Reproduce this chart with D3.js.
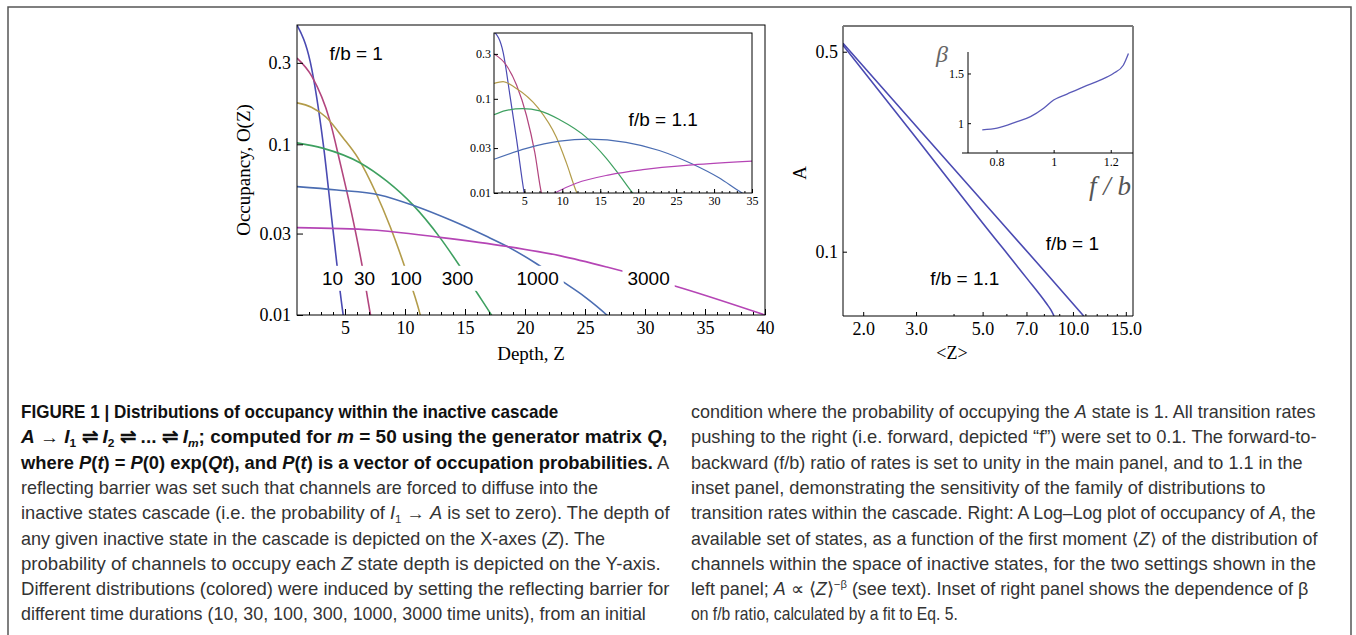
<!DOCTYPE html>
<html>
<head>
<meta charset="utf-8">
<script src="https://cdn.jsdelivr.net/npm/d3@7"></script>
<style>
  body { margin: 0; background: #fff; }
  svg { display: block; }
</style>
</head>
<body>
<div id="chart"></div>
<script>
// ---- data ----
const durations = ['10', '30', '100', '300', '1000', '3000'];
const depthTicks = [5, 10, 15, 20, 25, 30, 35, 40];
const insetDepthTicks = [5, 10, 15, 20, 25, 30, 35];
const occTicks = [0.01, 0.03, 0.1, 0.3];

// f/b = 1, main panel: [depth Z, occupancy]
const fb1_t10 = [[1, 0.5], [2.1, 0.305], [3.2, 0.099], [4.0, 0.0315], [4.85, 0.01], [5.2, 0.007]];
const fb1_t30 = [[1, 0.32], [2.24, 0.25], [3.72, 0.139], [4.61, 0.077], [5.5, 0.041], [6.39, 0.0201], [7.13, 0.01], [7.4, 0.008]];
const fb1_t100 = [[1, 0.175], [2.2, 0.165], [3.43, 0.144], [4.8, 0.11], [6.09, 0.083], [7.57, 0.052], [8.76, 0.033], [9.94, 0.0195], [11.27, 0.01], [11.6, 0.008]];
const fb1_t300 = [[1, 0.102], [3.13, 0.095], [6.24, 0.078], [8.46, 0.061], [10.68, 0.044], [12.9, 0.0285], [14.53, 0.0195], [16.0, 0.0135], [17.2, 0.01], [17.6, 0.009]];
const fb1_t1000 = [[1, 0.0565], [4.32, 0.054], [7.87, 0.0505], [10.83, 0.0435], [13.79, 0.036], [16.75, 0.029], [18.53, 0.0252], [20.9, 0.0201], [22.97, 0.016], [25.04, 0.0127], [26.82, 0.01], [27.5, 0.009]];
const fb1_t3000 = [[1, 0.0325], [7.28, 0.0315], [12.9, 0.0285], [18.53, 0.0252], [22.97, 0.0222], [26.82, 0.0191], [33.04, 0.0144], [40, 0.01]];

// f/b = 1.1, inset
const fb11_t10 = [[1, 0.52], [2.22, 0.308], [3.1, 0.109], [3.97, 0.0373], [4.98, 0.01], [5.2, 0.008]];
const fb11_t30 = [[1, 0.3], [2.58, 0.23], [3.97, 0.14], [5.28, 0.0665], [6.38, 0.0268], [7.25, 0.01], [7.4, 0.009]];
const fb11_t100 = [[1, 0.146], [2.2, 0.152], [3.75, 0.132], [6.81, 0.08], [9.22, 0.039], [10.53, 0.021], [11.93, 0.01], [12.2, 0.009]];
const fb11_t300 = [[1, 0.0677], [2.5, 0.075], [4.76, 0.0786], [7.04, 0.0745], [9.66, 0.06], [13.16, 0.039], [15.78, 0.0235], [17.53, 0.0155], [19.28, 0.01], [19.6, 0.0093]];
const fb11_t1000 = [[1, 0.0228], [5.28, 0.0298], [9.66, 0.0355], [13.5, 0.0373], [18.4, 0.0345], [22.78, 0.0283], [27.15, 0.0203], [30.65, 0.0145], [33.7, 0.01], [34.2, 0.0095]];
const fb11_t3000 = [[8.2, 0.0092], [9.0, 0.01], [11.84, 0.0127], [16.2, 0.0156], [20.6, 0.0177], [27.15, 0.0199], [35, 0.0218]];

// curve-label positions in the main panel
const labelZ = [3.96, 6.63, 10.09, 14.38, 21.05, 30.3];
const labelOcc = 0.0164;

// right panel: [<Z>, A]
const meanZTicks = [2, 3, 5, 7, 10, 15];
const meanZMinor = [4, 6, 8, 9, 11, 12, 13, 14];
const aTicks = [0.1, 0.5];
const aFb1 = [[1.713, 0.535], [3.0, 0.275], [5.0, 0.15], [8.0, 0.086], [10.86, 0.0596]];
const aFb11 = [[1.713, 0.527], [3.0, 0.25], [5.0, 0.126], [7.0, 0.081], [8.16, 0.0659], [8.45, 0.0625], [8.65, 0.0596]];

// right inset: beta vs f/b
const fbTicks = [0.8, 1, 1.2];
const betaTicks = [1, 1.5];
const fbRatio = [0.75, 0.802, 0.872, 0.919, 0.965, 1.0, 1.047, 1.105, 1.163, 1.209, 1.244, 1.262];
const beta = [0.933, 0.95, 1.016, 1.066, 1.15, 1.233, 1.293, 1.366, 1.433, 1.5, 1.583, 1.7];

const COLORS = ['#4a4ab2', '#b2457e', '#b39c4a', '#3ea060', '#4b6db2', '#b545b5'];

// caption lines: segments {t, b: bold, i: italic, sub, sup}
const captionLeft = [
  [{ t: 'FIGURE 1 | Distributions of occupancy within the inactive cascade', b: 1 }],
  [{ t: 'A', b: 1, i: 1 }, { t: ' \u2192 ', b: 1 }, { t: 'I', b: 1, i: 1 }, { t: '1', b: 1, sub: 1 }, { t: ' \u21cc ', b: 1 },
   { t: 'I', b: 1, i: 1 }, { t: '2', b: 1, sub: 1 }, { t: ' \u21cc ... \u21cc ', b: 1 }, { t: 'I', b: 1, i: 1 }, { t: 'm', b: 1, i: 1, sub: 1 },
   { t: '; computed for ', b: 1 }, { t: 'm', b: 1, i: 1 }, { t: ' = 50 using the generator matrix ', b: 1 }, { t: 'Q', b: 1, i: 1 }, { t: ',', b: 1 }],
  [{ t: 'where ', b: 1 }, { t: 'P', b: 1, i: 1 }, { t: '(', b: 1 }, { t: 't', b: 1, i: 1 }, { t: ') = ', b: 1 }, { t: 'P', b: 1, i: 1 },
   { t: '(0) exp(', b: 1 }, { t: 'Qt', b: 1, i: 1 }, { t: '), and ', b: 1 }, { t: 'P', b: 1, i: 1 }, { t: '(', b: 1 }, { t: 't', b: 1, i: 1 },
   { t: ') is a vector of occupation probabilities.', b: 1 }, { t: ' A' }],
  [{ t: 'reflecting barrier was set such that channels are forced to diffuse into the' }],
  [{ t: 'inactive states cascade (i.e. the probability of ' }, { t: 'I', i: 1 }, { t: '1', sub: 1 }, { t: ' \u2192 ' }, { t: 'A', i: 1 }, { t: ' is set to zero). The depth of' }],
  [{ t: 'any given inactive state in the cascade is depicted on the X-axes (' }, { t: 'Z', i: 1 }, { t: '). The' }],
  [{ t: 'probability of channels to occupy each ' }, { t: 'Z', i: 1 }, { t: ' state depth is depicted on the Y-axis.' }],
  [{ t: 'Different distributions (colored) were induced by setting the reflecting barrier for' }],
  [{ t: 'different time durations (10, 30, 100, 300, 1000, 3000 time units), from an initial' }]
];
const captionRight = [
  [{ t: 'condition where the probability of occupying the ' }, { t: 'A', i: 1 }, { t: ' state is 1. All transition rates' }],
  [{ t: 'pushing to the right (i.e. forward, depicted \u201cf\u201d) were set to 0.1. The forward-to-' }],
  [{ t: 'backward (f/b) ratio of rates is set to unity in the main panel, and to 1.1 in the' }],
  [{ t: 'inset panel, demonstrating the sensitivity of the family of distributions to' }],
  [{ t: 'transition rates within the cascade. Right: A Log\u2013Log plot of occupancy of ' }, { t: 'A', i: 1 }, { t: ', the' }],
  [{ t: 'available set of states, as a function of the first moment \u27e8' }, { t: 'Z', i: 1 }, { t: '\u27e9 of the distribution of' }],
  [{ t: 'channels within the space of inactive states, for the two settings shown in the' }],
  [{ t: 'left panel; ' }, { t: 'A', i: 1 }, { t: ' \u221d \u27e8' }, { t: 'Z', i: 1 }, { t: '\u27e9' }, { t: '\u2212\u03b2', sup: 1 },
   { t: ' (see text). Inset of right panel shows the dependence of \u03b2' }],
  [{ t: 'on f/b ratio, calculated by a fit to Eq. 5.' }]
];
const captionLeftEnds = [559, 670, 670, 598, 670, 605, 661, 670, 646];
const captionRightEnds = [1316, 1317, 1303, 1266, 1316, 1318, 1316, 1309, 958];

// ---- drawing ----
const W = 1356, H = 635;
const SERIF = '"Liberation Serif", "Times New Roman", serif';
const SANS = '"Liberation Sans", Arial, sans-serif';

const svg = d3.select('#chart').append('svg')
  .attr('width', W).attr('height', H)
  .attr('viewBox', `0 0 ${W} ${H}`);

// outer frame (open at the bottom)
svg.append('rect')
  .attr('x', 8).attr('y', 7).attr('width', 1343).attr('height', 660)
  .attr('fill', 'none').attr('stroke', '#555').attr('stroke-width', 1.5);

let clipId = 0;
function styleAxis(sel, fontSize) {
  sel.selectAll('text').attr('font-family', SERIF).attr('font-size', fontSize).attr('fill', '#000');
  sel.selectAll('line').attr('stroke', '#000');
  sel.select('.domain').remove();
}

function frame(g, x0, y0, x1, y1) {
  g.append('rect')
    .attr('x', x0).attr('y', y0).attr('width', x1 - x0).attr('height', y1 - y0)
    .attr('fill', 'none').attr('stroke', '#000').attr('stroke-width', 1);
}

function clipRect(x0, y0, x1, y1) {
  const id = 'clip' + (clipId++);
  svg.append('clipPath').attr('id', id).append('rect')
    .attr('x', x0).attr('y', y0).attr('width', x1 - x0).attr('height', y1 - y0);
  return `url(#${id})`;
}

// occupancy panel (main and inset share this)
function occupancyPanel(series, opt) {
  const g = svg.append('g');
  const x = d3.scaleLinear().domain(opt.xDomain).range([opt.left, opt.right]);
  const y = d3.scaleLog().domain([0.01, 0.5]).range([opt.bottom, opt.top]);

  if (opt.background) {
    g.append('rect').attr('x', opt.left).attr('y', opt.top)
      .attr('width', opt.right - opt.left).attr('height', opt.bottom - opt.top).attr('fill', '#fff');
  }

  const line = d3.line().x(d => x(d[0])).y(d => y(d[1])).curve(d3.curveMonotoneX);
  g.append('g').attr('clip-path', clipRect(opt.left, opt.top, opt.right, opt.bottom))
    .selectAll('path').data(series).join('path')
    .attr('d', d => line(d))
    .attr('fill', 'none')
    .attr('stroke', (d, i) => COLORS[i])
    .attr('stroke-width', opt.lineWidth);

  // minor + major ticks along the bottom, pointing inward
  g.append('g').attr('transform', `translate(0,${opt.bottom})`)
    .call(d3.axisBottom(x).tickValues(d3.range(2, opt.xDomain[1] + 1)).tickSizeInner(-opt.minor).tickSizeOuter(0).tickFormat(''))
    .call(s => styleAxis(s, opt.font));
  g.append('g').attr('transform', `translate(0,${opt.bottom})`)
    .call(d3.axisBottom(x).tickValues(opt.xTicks).tickSizeInner(-opt.major).tickSizeOuter(0).tickPadding(opt.pad))
    .call(s => styleAxis(s, opt.font));
  g.append('g').attr('transform', `translate(${opt.left},0)`)
    .call(d3.axisLeft(y).tickValues(occTicks).tickSizeInner(-opt.major).tickSizeOuter(0).tickPadding(opt.pad)
      .tickFormat(d => String(d)))
    .call(s => styleAxis(s, opt.font));

  frame(g, opt.left, opt.top, opt.right, opt.bottom);
  return { g, x, y };
}

const main = occupancyPanel([fb1_t10, fb1_t30, fb1_t100, fb1_t300, fb1_t1000, fb1_t3000], {
  xDomain: [1, 40], left: 297, right: 765, top: 25, bottom: 315,
  xTicks: depthTicks, major: 6, minor: 3, pad: 6, font: 18, lineWidth: 1.6
});

// duration labels with white boxes that cut the curves
durations.forEach((lab, i) => {
  const t = main.g.append('text')
    .attr('x', main.x(labelZ[i])).attr('y', main.y(labelOcc))
    .attr('text-anchor', 'middle').attr('dominant-baseline', 'central')
    .attr('font-family', SANS).attr('font-size', 19).attr('fill', '#000')
    .text(lab);
  const bb = t.node().getBBox();
  main.g.insert('rect', () => t.node())
    .attr('x', bb.x - 5).attr('y', bb.y - 2).attr('width', bb.width + 10).attr('height', bb.height + 4)
    .attr('fill', '#fff');
});

main.g.append('text')
  .attr('x', main.x(5.94)).attr('y', main.y(0.341))
  .attr('text-anchor', 'middle').attr('dominant-baseline', 'central')
  .attr('font-family', SANS).attr('font-size', 19).text('f/b = 1');

svg.append('text')
  .attr('x', 531).attr('y', 360)
  .attr('text-anchor', 'middle')
  .attr('font-family', SERIF).attr('font-size', 19).text('Depth, Z');
svg.append('text')
  .attr('transform', 'translate(250,170) rotate(-90)')
  .attr('text-anchor', 'middle')
  .attr('font-family', SERIF).attr('font-size', 19).text('Occupancy, O(Z)');

// inset for f/b = 1.1
const inset = occupancyPanel([fb11_t10, fb11_t30, fb11_t100, fb11_t300, fb11_t1000, fb11_t3000], {
  xDomain: [1, 35], left: 494, right: 752, top: 33, bottom: 193, background: true,
  xTicks: insetDepthTicks, major: 4, minor: 2, pad: 3, font: 12, lineWidth: 1.2
});
inset.g.append('text')
  .attr('x', inset.x(23.3)).attr('y', inset.y(0.0596))
  .attr('text-anchor', 'middle').attr('dominant-baseline', 'central')
  .attr('font-family', SANS).attr('font-size', 19).text('f/b = 1.1');

// ---- right panel: A vs <Z> ----
const rp = { left: 843, right: 1133, top: 26, bottom: 316 };
const xr = d3.scaleLog().domain([1.713, 15.85]).range([rp.left, rp.right]);
const yr = d3.scaleLog().domain([0.0596, 0.615]).range([rp.bottom, rp.top]);
const gr = svg.append('g');

const lineR = d3.line().x(d => xr(d[0])).y(d => yr(d[1])).curve(d3.curveMonotoneX);
gr.append('g').attr('clip-path', clipRect(rp.left, rp.top, rp.right, rp.bottom))
  .selectAll('path').data([aFb1, aFb11]).join('path')
  .attr('d', d => lineR(d))
  .attr('fill', 'none').attr('stroke', '#4a4ab2').attr('stroke-width', 1.6);

gr.append('g').attr('transform', `translate(0,${rp.bottom})`)
  .call(d3.axisBottom(xr).tickValues(meanZMinor).tickSizeInner(-2).tickSizeOuter(0).tickFormat(''))
  .call(s => styleAxis(s, 18));
gr.append('g').attr('transform', `translate(0,${rp.bottom})`)
  .call(d3.axisBottom(xr).tickValues(meanZTicks).tickSizeInner(-4).tickSizeOuter(0).tickPadding(6)
    .tickFormat(d3.format('.1f')))
  .call(s => styleAxis(s, 18));
gr.append('g').attr('transform', `translate(${rp.left},0)`)
  .call(d3.axisLeft(yr).tickValues(aTicks).tickSizeInner(-4).tickSizeOuter(0).tickPadding(5)
    .tickFormat(d => String(d)))
  .call(s => styleAxis(s, 18));

// frame: black left/bottom/right, grey top edge
gr.append('path')
  .attr('d', `M${rp.left},${rp.top}V${rp.bottom}H${rp.right}V${rp.top}`)
  .attr('fill', 'none').attr('stroke', '#000').attr('stroke-width', 1);
gr.append('line')
  .attr('x1', rp.left).attr('x2', rp.right).attr('y1', rp.top).attr('y2', rp.top)
  .attr('stroke', '#7a7a7a').attr('stroke-width', 2);

gr.append('text')
  .attr('x', xr(9.95)).attr('y', yr(0.107))
  .attr('text-anchor', 'middle').attr('dominant-baseline', 'central')
  .attr('font-family', SANS).attr('font-size', 19).text('f/b = 1');
gr.append('text')
  .attr('x', xr(4.36)).attr('y', yr(0.0808))
  .attr('text-anchor', 'middle').attr('dominant-baseline', 'central')
  .attr('font-family', SANS).attr('font-size', 19).text('f/b = 1.1');

svg.append('text')
  .attr('x', 952).attr('y', 359)
  .attr('text-anchor', 'middle')
  .attr('font-family', SERIF).attr('font-size', 18).text('<Z>');
svg.append('text')
  .attr('transform', 'translate(806,173) rotate(-90)')
  .attr('text-anchor', 'middle')
  .attr('font-family', SERIF).attr('font-size', 19).text('A');

// right inset: beta vs f/b
const bi = { left: 968, right: 1133, top: 52, bottom: 153 };
const xb = d3.scaleLinear().domain([0.7, 1.278]).range([bi.left, bi.right]);
const yb = d3.scaleLinear().domain([0.7, 1.716]).range([bi.bottom, bi.top]);
const gb = svg.append('g');

gb.append('path')
  .datum(fbRatio.map((f, i) => [f, beta[i]]))
  .attr('d', d3.line().x(d => xb(d[0])).y(d => yb(d[1])).curve(d3.curveMonotoneX))
  .attr('fill', 'none').attr('stroke', '#5a5ab8').attr('stroke-width', 1.3);

gb.append('g').attr('transform', `translate(0,${bi.bottom})`)
  .call(d3.axisBottom(xb).tickValues(fbTicks).tickSizeInner(-3).tickSizeOuter(0).tickPadding(4)
    .tickFormat(d => String(d)))
  .call(s => styleAxis(s, 12));
gb.append('g').attr('transform', `translate(${bi.left},0)`)
  .call(d3.axisLeft(yb).tickValues(betaTicks).tickSizeInner(-3).tickSizeOuter(0).tickPadding(4)
    .tickFormat(d => String(d)))
  .call(s => styleAxis(s, 12));
gb.append('path')
  .attr('d', `M${bi.left},${bi.top}V${bi.bottom}M${bi.left - 6},${bi.bottom}H${bi.right}`)
  .attr('fill', 'none').attr('stroke', '#000').attr('stroke-width', 1);

gb.append('text')
  .attr('x', bi.left - 26).attr('y', bi.top + 10)
  .attr('text-anchor', 'middle')
  .attr('font-family', SERIF).attr('font-style', 'italic').attr('font-size', 24).attr('fill', '#666')
  .text('\u03b2');
gb.append('text')
  .attr('x', 1110).attr('y', 195)
  .attr('text-anchor', 'middle')
  .attr('font-family', SERIF).attr('font-style', 'italic').attr('font-size', 27).attr('fill', '#555')
  .text('f / b');

// ---- caption ----
// each line is set at its natural width, then squeezed horizontally to the measured line end
const CAP_TOP = 418, CAP_STEP = 25.3, CAP_SIZE = 17.5;
function caption(lines, x0, ends) {
  lines.forEach((segs, li) => {
    const y0 = CAP_TOP + li * CAP_STEP;
    const t = svg.append('text')
      .attr('x', 0).attr('y', 0)
      .attr('font-family', SANS).attr('font-size', CAP_SIZE);
    segs.forEach((s, si) => {
      const sp = t.append('tspan').text(s.t)
        .attr('font-weight', s.b ? 'bold' : 'normal')
        .attr('font-style', s.i ? 'italic' : 'normal')
        .attr('fill', s.b ? '#111' : '#333');
      if (s.sub) sp.attr('dy', 4).attr('font-size', 11);
      if (s.sup) sp.attr('dy', -7).attr('font-size', 11);
      const prev = segs[si - 1];
      if (prev && (prev.sub || prev.sup) && !(s.sub || s.sup)) sp.attr('dy', prev.sub ? -4 : 7);
    });
    const natural = t.node().getComputedTextLength();
    const k = (ends[li] - x0) / natural;
    t.attr('transform', `translate(${x0},${y0}) scale(${k},1)`);
  });
}
caption(captionLeft, 21, captionLeftEnds);
caption(captionRight, 691, captionRightEnds);
</script>
</body>
</html>
